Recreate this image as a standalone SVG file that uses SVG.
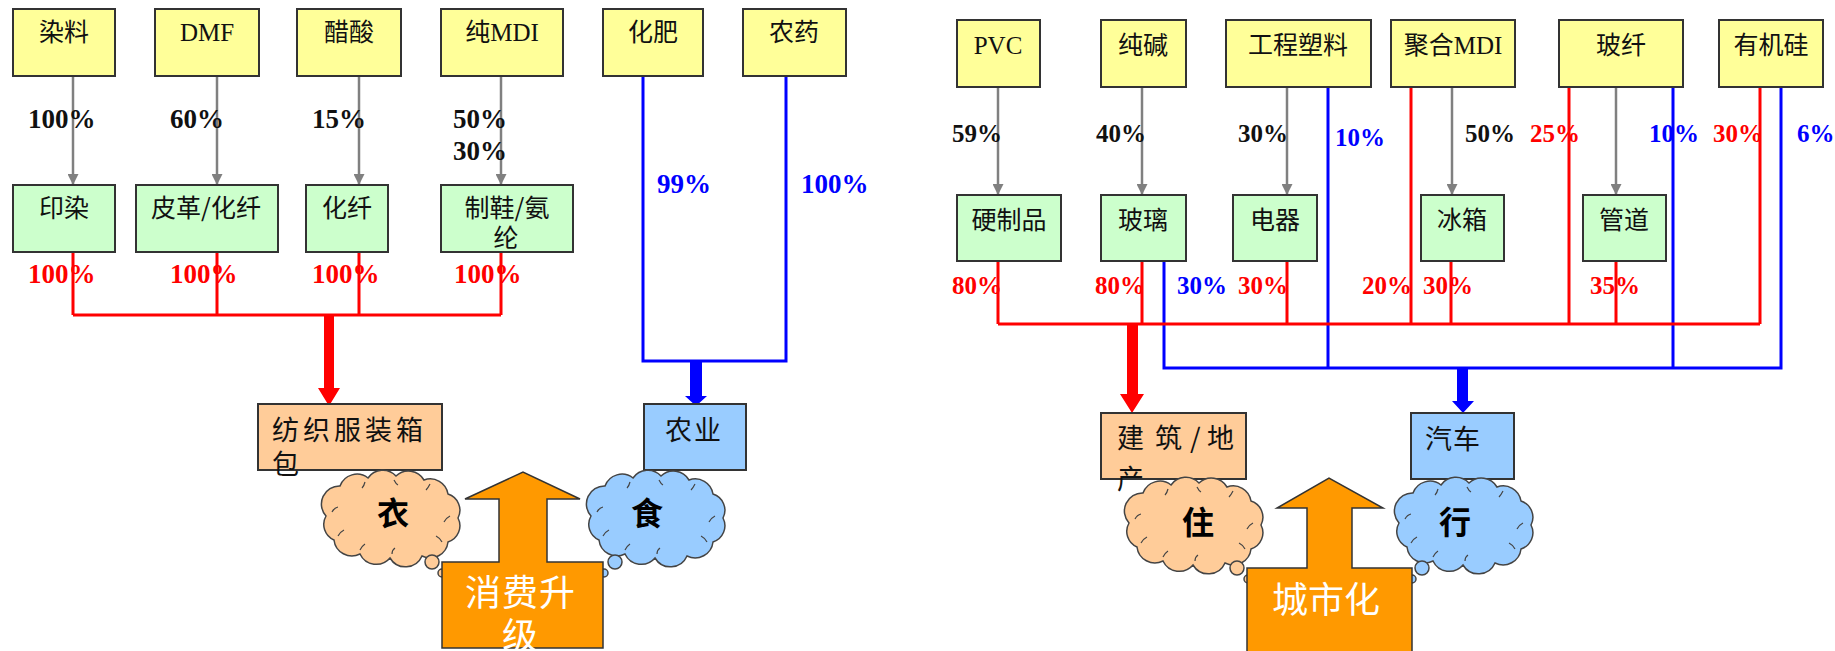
<svg xmlns="http://www.w3.org/2000/svg" xmlns:xlink="http://www.w3.org/1999/xlink" width="1835" height="651" viewBox="0 0 1835 651">
<style>
.box{stroke:#333;stroke-width:2}
.y{fill:#FFFF99}.g{fill:#CCFFCC}.p{fill:#FFCC99}.b{fill:#99CCFF}
.t{font-family:"Noto Sans CJK SC","Liberation Serif",serif;font-size:25px;fill:#111}
.tl{font-family:"Liberation Serif","Noto Sans CJK SC",serif;font-size:25px;fill:#111}
.big{font-family:"Noto Sans CJK SC",sans-serif;font-size:27px;fill:#111}
.pct{font-family:"Liberation Serif",serif;font-weight:bold;font-size:27px}
.pr{font-family:"Liberation Serif",serif;font-weight:bold;font-size:25px}
.k{fill:#111}.r{fill:#FF0000}.u{fill:#0000FF}
.gl{stroke:#808080;stroke-width:2.5;fill:none}
.rl{stroke:#FF0000;stroke-width:3;fill:none}
.bl{stroke:#0000FF;stroke-width:3;fill:none}
.cl{stroke:#444;stroke-width:1.5}
.curl{stroke:#444;stroke-width:1.2;fill:none}
.ct{font-family:"Noto Sans CJK SC",sans-serif;font-size:32px;font-weight:bold;fill:#000;text-anchor:middle}
.ot{font-family:"Noto Sans CJK SC",sans-serif;font-size:36px;fill:#fff}
.orange{fill:#FF9900;stroke:#333;stroke-width:1.5}
</style>
<defs>
<marker id="ga" viewBox="0 0 10 10" refX="10" refY="5" markerWidth="11" markerHeight="11" markerUnits="userSpaceOnUse" orient="auto"><path d="M0,0 L10,5 L0,10 Z" fill="#808080"/></marker>
<path id="cloud" d="M8,44 A18 18 0 0 1 22,14 A18 18 0 0 1 50,6 A18 18 0 0 1 78,4 A18 18 0 0 1 106,8 A18 18 0 0 1 130,22 A17 17 0 0 1 140,46 A17 17 0 0 1 130,70 A18 18 0 0 1 104,84 A18 18 0 0 1 72,86 A18 18 0 0 1 42,82 A18 18 0 0 1 16,68 A17 17 0 0 1 8,44 Z"/>
<path id="curls" d="M14,40 Q16,36 20,35 M47,10 Q46,14 44,16 M76,8 Q78,12 80,13 M112,12 Q110,16 108,18 M132,44 Q128,46 126,50 M124,70 Q122,66 118,64 M74,82 Q74,78 77,76 M42,78 Q44,74 47,72 M20,64 Q22,60 26,58"/>
</defs>
<rect width="1835" height="651" fill="#fff"/>

<g id="connectors">
<line class="gl" x1="73" y1="76" x2="73" y2="185" marker-end="url(#ga)"/>
<line class="gl" x1="217" y1="76" x2="217" y2="185" marker-end="url(#ga)"/>
<line class="gl" x1="359" y1="76" x2="359" y2="185" marker-end="url(#ga)"/>
<line class="gl" x1="501" y1="76" x2="501" y2="185" marker-end="url(#ga)"/>
<path class="rl" d="M73,252 V315 M217,252 V315 M359,252 V315 M501,252 V315 M73,315 H501"/>
<polygon fill="#FF0000" points="324,315 334,315 334,388 340,388 329,406 318,388 324,388"/>
<path class="bl" d="M643,76 V361 H786 V76"/>
<polygon fill="#0000FF" points="690,361 702,361 702,396 707,396 696,406 685,396 690,396"/>
<line class="gl" x1="998" y1="87" x2="998" y2="195" marker-end="url(#ga)"/>
<line class="gl" x1="1142" y1="87" x2="1142" y2="195" marker-end="url(#ga)"/>
<line class="gl" x1="1287" y1="87" x2="1287" y2="195" marker-end="url(#ga)"/>
<line class="gl" x1="1452" y1="87" x2="1452" y2="195" marker-end="url(#ga)"/>
<line class="gl" x1="1616" y1="87" x2="1616" y2="195" marker-end="url(#ga)"/>
<path class="bl" d="M1164,261 V368 H1781 V87 M1328,87 V368 M1673,87 V368"/>
<polygon fill="#0000FF" points="1457,368 1468,368 1468,401 1474,401 1463,413 1452,401 1457,401"/>
<path class="rl" d="M998,261 V324 M1142,261 V324 M1287,261 V324 M1411,87 V324 M1451,261 V324 M1569,87 V324 M1616,261 V324 M1760,87 V324 M998,324 H1760"/>
<polygon fill="#FF0000" points="1127,324 1138,324 1138,394 1144,394 1132,413 1120,394 1127,394"/>
</g>

<g id="labels">
<text class="pct k" x="28" y="128">100%</text>
<text class="pct k" x="170" y="128">60%</text>
<text class="pct k" x="312" y="128">15%</text>
<text class="pct k" x="453" y="128">50%</text>
<text class="pct k" x="453" y="160">30%</text>
<text class="pct r" x="28" y="283">100%</text>
<text class="pct r" x="170" y="283">100%</text>
<text class="pct r" x="312" y="283">100%</text>
<text class="pct r" x="454" y="283">100%</text>
<text class="pct u" x="657" y="193">99%</text>
<text class="pct u" x="801" y="193">100%</text>

<text class="pr k" x="952" y="142">59%</text>
<text class="pr k" x="1096" y="142">40%</text>
<text class="pr k" x="1238" y="142">30%</text>
<text class="pr u" x="1335" y="146">10%</text>
<text class="pr k" x="1465" y="142">50%</text>
<text class="pr r" x="1530" y="142">25%</text>
<text class="pr u" x="1649" y="142">10%</text>
<text class="pr r" x="1713" y="142">30%</text>
<text class="pr u" x="1797" y="142">6%</text>

<text class="pr r" x="952" y="294">80%</text>
<text class="pr r" x="1095" y="294">80%</text>
<text class="pr u" x="1177" y="294">30%</text>
<text class="pr r" x="1238" y="294">30%</text>
<text class="pr r" x="1362" y="294">20%</text>
<text class="pr r" x="1423" y="294">30%</text>
<text class="pr r" x="1590" y="294">35%</text>
</g>

<g id="n-ranliao"><rect class="box y" x="13" y="9" width="102" height="67"/><text class="t" x="64" y="41" text-anchor="middle">染料</text></g>
<g id="n-dmf"><rect class="box y" x="155" y="9" width="104" height="67"/><text class="tl" x="207" y="41" text-anchor="middle">DMF</text></g>
<g id="n-cusuan"><rect class="box y" x="297" y="9" width="104" height="67"/><text class="t" x="349" y="41" text-anchor="middle">醋酸</text></g>
<g id="n-chunmdi"><rect class="box y" x="441" y="9" width="122" height="67"/><text class="t" x="502" y="41" text-anchor="middle">纯<tspan class="tl">MDI</tspan></text></g>
<g id="n-huafei"><rect class="box y" x="603" y="9" width="100" height="67"/><text class="t" x="653" y="41" text-anchor="middle">化肥</text></g>
<g id="n-nongyao"><rect class="box y" x="743" y="9" width="103" height="67"/><text class="t" x="794" y="41" text-anchor="middle">农药</text></g>

<g id="n-yinran"><rect class="box g" x="13" y="185" width="102" height="67"/><text class="t" x="64" y="217" text-anchor="middle">印染</text></g>
<g id="n-pige"><rect class="box g" x="136" y="185" width="142" height="67"/><text class="t" x="206" y="217" text-anchor="middle">皮革/化纤</text></g>
<g id="n-huaxian"><rect class="box g" x="306" y="185" width="82" height="67"/><text class="t" x="347" y="217" text-anchor="middle">化纤</text></g>
<g id="n-zhixie"><rect class="box g" x="441" y="185" width="132" height="67"/><text class="t" x="507" y="217" text-anchor="middle">制鞋/氨</text><text class="t" x="506" y="247" text-anchor="middle">纶</text></g>

<g id="n-fangzhi"><rect class="box p" x="258" y="404" width="184" height="66"/><text class="big" x="272" y="440" letter-spacing="4">纺织服装箱</text><text class="big" x="272" y="474">包</text></g>
<g id="n-nongye"><rect class="box b" x="644" y="404" width="102" height="66"/><text class="big" x="665" y="440" letter-spacing="2">农业</text></g>

<g id="n-yi">
<use xlink:href="#cloud" href="#cloud" class="cl" fill="#FFCC99" transform="translate(318,472)"/>
<use xlink:href="#curls" href="#curls" class="curl" transform="translate(318,472)"/>
<circle class="cl" fill="#FFCC99" cx="432" cy="562" r="7"/>
<circle class="cl" fill="#FFCC99" cx="442" cy="573" r="4"/>
<circle class="cl" fill="#FFCC99" cx="449" cy="580" r="2.5"/>
<text class="ct" x="393" y="525">衣</text>
</g>
<g id="n-shi">
<use xlink:href="#cloud" href="#cloud" class="cl" fill="#99CCFF" transform="translate(583,472)"/>
<use xlink:href="#curls" href="#curls" class="curl" transform="translate(583,472)"/>
<circle class="cl" fill="#99CCFF" cx="615" cy="562" r="7"/>
<circle class="cl" fill="#99CCFF" cx="604" cy="573" r="4"/>
<circle class="cl" fill="#99CCFF" cx="597" cy="581" r="2.5"/>
<text class="ct" x="647" y="525">食</text>
</g>
<g id="n-xiaofei">
<path class="orange" d="M442,648 V562 H499 V499 H465 L523,472 L580,499 H547 V562 H603 V648 Z"/>
<text class="ot" x="465" y="606" letter-spacing="1">消费升</text>
<text class="ot" x="520" y="649" text-anchor="middle">级</text>
</g>

<g id="n-pvc"><rect class="box y" x="957" y="20" width="83" height="67"/><text class="tl" x="998" y="54" text-anchor="middle">PVC</text></g>
<g id="n-chunjian"><rect class="box y" x="1101" y="20" width="85" height="67"/><text class="t" x="1143" y="54" text-anchor="middle">纯碱</text></g>
<g id="n-gongcheng"><rect class="box y" x="1226" y="20" width="145" height="67"/><text class="t" x="1298" y="54" text-anchor="middle">工程塑料</text></g>
<g id="n-juhe"><rect class="box y" x="1391" y="20" width="124" height="67"/><text class="t" x="1453" y="54" text-anchor="middle">聚合<tspan class="tl">MDI</tspan></text></g>
<g id="n-boxian"><rect class="box y" x="1559" y="20" width="124" height="67"/><text class="t" x="1621" y="54" text-anchor="middle">玻纤</text></g>
<g id="n-youjigui"><rect class="box y" x="1719" y="20" width="104" height="67"/><text class="t" x="1771" y="54" text-anchor="middle">有机硅</text></g>

<g id="n-yingzhipin"><rect class="box g" x="957" y="195" width="104" height="66"/><text class="t" x="1009" y="229" text-anchor="middle">硬制品</text></g>
<g id="n-boli"><rect class="box g" x="1101" y="195" width="85" height="66"/><text class="t" x="1143" y="229" text-anchor="middle">玻璃</text></g>
<g id="n-dianqi"><rect class="box g" x="1233" y="195" width="84" height="66"/><text class="t" x="1275" y="229" text-anchor="middle">电器</text></g>
<g id="n-bingxiang"><rect class="box g" x="1421" y="195" width="83" height="66"/><text class="t" x="1462" y="229" text-anchor="middle">冰箱</text></g>
<g id="n-guandao"><rect class="box g" x="1583" y="195" width="83" height="66"/><text class="t" x="1624" y="229" text-anchor="middle">管道</text></g>

<g id="n-jianzhu"><rect class="box p" x="1101" y="413" width="145" height="66"/><text class="big" y="448"><tspan x="1117">建</tspan><tspan x="1155">筑</tspan><tspan x="1190">/</tspan><tspan x="1207">地</tspan></text><text class="big" x="1117" y="489">产</text></g>
<g id="n-qiche"><rect class="box b" x="1411" y="413" width="103" height="66"/><text class="big" x="1425" y="449" letter-spacing="1">汽车</text></g>

<g id="n-zhu">
<use xlink:href="#cloud" href="#cloud" class="cl" fill="#FFCC99" transform="translate(1121,479)"/>
<use xlink:href="#curls" href="#curls" class="curl" transform="translate(1121,479)"/>
<circle class="cl" fill="#FFCC99" cx="1237" cy="568" r="7"/>
<circle class="cl" fill="#FFCC99" cx="1248" cy="579" r="4"/>
<circle class="cl" fill="#FFCC99" cx="1254" cy="587" r="2.5"/>
<text class="ct" x="1198" y="534">住</text>
</g>
<g id="n-xing">
<use xlink:href="#cloud" href="#cloud" class="cl" fill="#99CCFF" transform="translate(1391,479)"/>
<use xlink:href="#curls" href="#curls" class="curl" transform="translate(1391,479)"/>
<circle class="cl" fill="#99CCFF" cx="1422" cy="568" r="7"/>
<circle class="cl" fill="#99CCFF" cx="1412" cy="579" r="4"/>
<circle class="cl" fill="#99CCFF" cx="1404" cy="587" r="2.5"/>
<text class="ct" x="1455" y="534">行</text>
</g>
<g id="n-chengshihua">
<path class="orange" d="M1247,660 V568 H1307 V508 H1277 L1329,478 L1383,508 H1352 V568 H1412 V660 Z"/>
<text class="ot" x="1326" y="613" text-anchor="middle">城市化</text>
</g>
</svg>
